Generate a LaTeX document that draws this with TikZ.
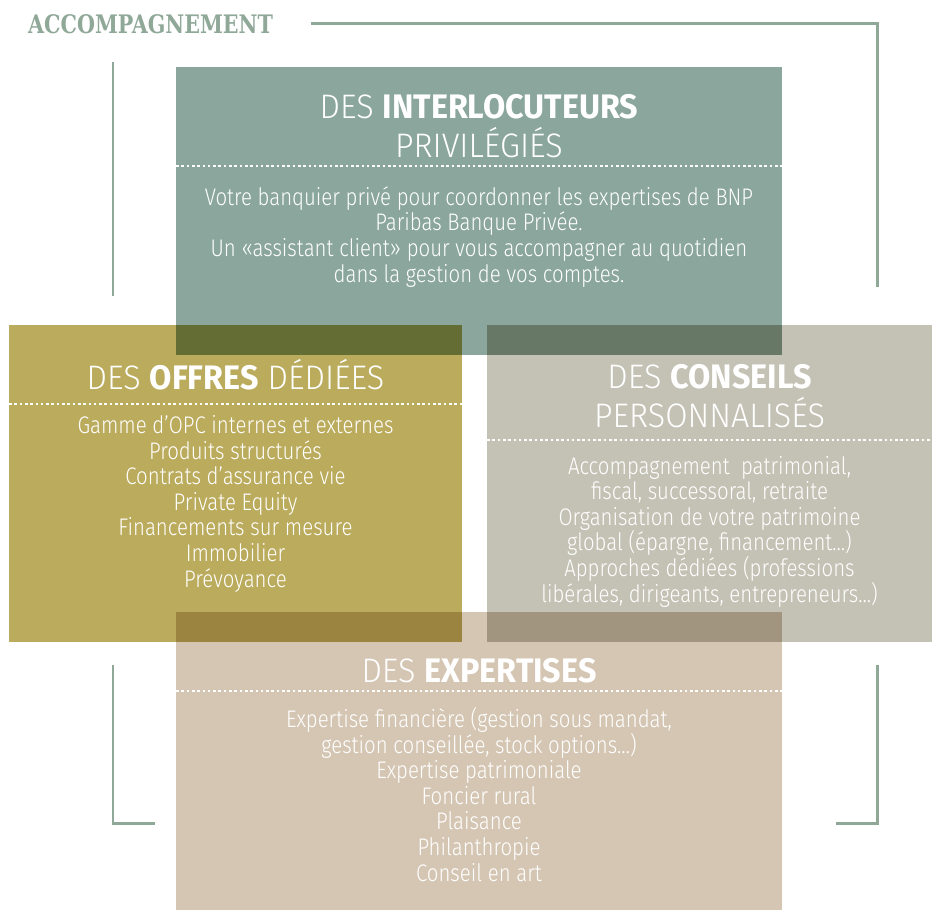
\documentclass[tikz,border=0pt]{standalone}
\usepackage{fontspec}
\setmainfont{Fira Sans}[UprightFont=* Light, BoldFont=* Bold, FakeStretch=0.85]
\newfontfamily\headfont{Fira Sans}[UprightFont=* Light, BoldFont=* Bold, FakeStretch=0.95]
\newfontfamily\slabfont{DejaVu Serif Condensed}[FakeStretch=0.9]
\usepackage{xcolor}

\definecolor{interc}{HTML}{8AA69D}
\definecolor{offrec}{HTML}{BBAB5C}
\definecolor{consc}{HTML}{C4C2B5}
\definecolor{expc}{HTML}{D5C6B3}
\definecolor{ovTL}{HTML}{636D34}
\definecolor{ovTR}{HTML}{677866}
\definecolor{ovBL}{HTML}{9A843F}
\definecolor{ovBR}{HTML}{A29580}
\definecolor{framec}{HTML}{8FA898}

\tikzset{
    panel/.style={inner sep=0pt, outer sep=0pt, anchor=north west},
    heading/.style={text=white, align=center, anchor=base, inner sep=0pt, font=\headfont\fontsize{34}{38.5}\selectfont},
    bodytext/.style={text=white, align=center, anchor=base, inner sep=0pt, font=\fontsize{24}{25.6}\selectfont},
    dotline/.style={white, line width=2.6pt, dash pattern=on 2.6pt off 2.7pt},
    frameline/.style={framec, line width=2.6pt}
}

\begin{document}
\begin{tikzpicture}[x=1pt, y=-1pt]
    \useasboundingbox (0,0) rectangle (932,910);

    % Draw the four panels
    \node[panel, fill=interc, minimum width=606pt, minimum height=288pt] (inter) at (176,67) {};
    \node[panel, fill=offrec, minimum width=453pt, minimum height=317pt] (offres) at (9,325) {};
    \node[panel, fill=consc, minimum width=445pt, minimum height=317pt] (conseils) at (487,325) {};
    \node[panel, fill=expc, minimum width=606pt, minimum height=298pt] (expert) at (176,612) {};

    % Draw the overlapping corners
    \fill[ovTL] (inter.west |- offres.north) rectangle (offres.east |- inter.south);
    \fill[ovTR] (conseils.north west) rectangle (inter.east |- inter.south);
    \fill[ovBL] (expert.north west) rectangle (offres.south east);
    \fill[ovBR] (conseils.west |- expert.north) rectangle (expert.east |- conseils.south);

    % Draw the frame around the panels
    \draw[frameline] (311,23.5) -- (877.5,23.5) -- (877.5,287);
    \draw[frameline] (113,62) -- (113,296);
    \draw[frameline] (113,665) -- (113,823.5) -- (154.5,823.5);
    \draw[frameline] (836,823.5) -- (877.5,823.5) -- (877.5,665);

    \node[anchor=base west, inner sep=0pt, text=framec, font=\slabfont\bfseries\fontsize{25.5}{30}\selectfont] (accomp) at (28,34) {ACCOMPAGNEMENT};

    % Draw the dotted rules under the headings
    \draw[dotline] (inter.west |- 0,166) -- (inter.east |- 0,166);
    \draw[dotline] (offres.west |- 0,404) -- (offres.east |- 0,404);
    \draw[dotline] (conseils.west |- 0,440) -- (conseils.east |- 0,440);
    \draw[dotline] (expert.west |- 0,691) -- (expert.east |- 0,691);

    % Headings (anchor base = last line)
    \node[heading] (tinter) at (479,157) {DES \textbf{INTERLOCUTEURS}\\PRIVILÉGIÉS};
    \node[heading] (toffres) at (235.5,389) {DES \textbf{OFFRES} DÉDIÉES};
    \node[heading] (tconseils) at (709.5,427) {DES \textbf{CONSEILS}\\PERSONNALISÉS};
    \node[heading] (texpert) at (479,682) {DES \textbf{EXPERTISES}};

    % Texts of the panels (anchor base = last line)
    \node[bodytext] (binter) at (479,282) {Votre banquier privé pour coordonner les expertises de BNP\\Paribas Banque Privée.\\Un «assistant client» pour vous accompagner au quotidien\\dans la gestion de vos comptes.};
    \node[bodytext] (boffres) at (235.5,587) {Gamme d’OPC internes et externes\\Produits structurés\\Contrats d’assurance vie\\Private Equity\\Financements sur mesure\\Immobilier\\Prévoyance};
    \node[bodytext] (bconseils) at (709.5,602) {Accompagnement~ patrimonial,\\fiscal, successoral, retraite\\Organisation de votre patrimoine\\global (épargne, financement…)\\Approches dédiées (professions\\libérales, dirigeants, entrepreneurs…)};
    \node[bodytext] (bexpert) at (479,881) {Expertise financière (gestion sous mandat,\\gestion conseillée, stock options…)\\Expertise patrimoniale\\Foncier rural\\Plaisance\\Philanthropie\\Conseil en art};
\end{tikzpicture}
\end{document}
